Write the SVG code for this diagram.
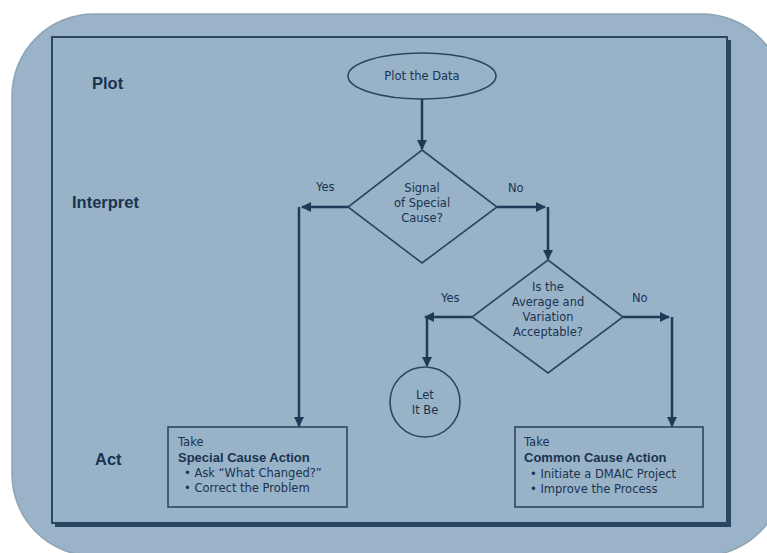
<svg xmlns="http://www.w3.org/2000/svg" width="767" height="553" viewBox="0 0 767 553">
<defs>
<marker id="ah" viewBox="0 0 10 10" refX="9" refY="5" markerWidth="10" markerHeight="10" markerUnits="userSpaceOnUse" orient="auto">
<path d="M0,0 L10,5 L0,10 z" fill="#1f3a56"/>
</marker>
<style>
.shape{fill:#98b2c7;stroke:#2a4663;stroke-width:1.6}
.t{font-family:"DejaVu Sans","Liberation Sans",Arial,sans-serif;font-size:11.5px;fill:#1a3350}
.tb{font-family:"Liberation Sans",Arial,sans-serif;font-size:13px;font-weight:bold;fill:#1a3350}
.lab{font-family:"Liberation Sans",Arial,sans-serif;font-size:16.5px;font-weight:bold;fill:#1a3350}
.ca{fill:none;stroke:#1f3a56;stroke-width:2.5;marker-end:url(#ah)}
</style>
</defs>
<rect width="767" height="553" fill="#ffffff"/>
<rect x="12" y="14" width="772" height="542" rx="82" fill="#9ab3c8" stroke="#8ea3b4" stroke-width="1.5"/>
<polyline points="729,40 729,525 55,525" fill="none" stroke="#2c4560" stroke-width="4"/>
<rect x="52" y="37" width="675" height="486" fill="#98b2c7" stroke="#2a4663" stroke-width="2"/>
<g id="labels">
<text class="lab" x="92" y="89">Plot</text>
<text class="lab" x="72" y="208">Interpret</text>
<text class="lab" x="95" y="465">Act</text>
</g>
<g id="connectors">
<line class="ca" x1="422" y1="99" x2="422" y2="149"/>
<line class="ca" x1="348" y1="207" x2="302" y2="207"/>
<line class="ca" x1="299" y1="207" x2="299" y2="426"/>
<line class="ca" x1="497" y1="207" x2="545" y2="207"/>
<line class="ca" x1="548" y1="207" x2="548" y2="259"/>
<line class="ca" x1="472" y1="317" x2="425" y2="317"/>
<line class="ca" x1="427" y1="317" x2="427" y2="366"/>
<line class="ca" x1="623" y1="317" x2="669" y2="317"/>
<line class="ca" x1="672" y1="317" x2="672" y2="426"/>
<text class="t" x="316" y="191">Yes</text>
<text class="t" x="508" y="192">No</text>
<text class="t" x="441" y="302">Yes</text>
<text class="t" x="632" y="302">No</text>
</g>
<g id="plot-data">
<ellipse class="shape" cx="422" cy="76" rx="74" ry="23"/>
<text class="t" x="422" y="80" text-anchor="middle">Plot the Data</text>
</g>
<g id="signal">
<polygon class="shape" points="422,150 497,207 422,263 348,207"/>
<text class="t" text-anchor="middle"><tspan x="422" y="192">Signal</tspan><tspan x="422" y="207">of Special</tspan><tspan x="422" y="222">Cause?</tspan></text>
</g>
<g id="acceptable">
<polygon class="shape" points="548,260 623,317 548,373 472,317"/>
<text class="t" text-anchor="middle"><tspan x="548" y="291">Is the</tspan><tspan x="548" y="306">Average and</tspan><tspan x="548" y="321">Variation</tspan><tspan x="548" y="336">Acceptable?</tspan></text>
</g>
<g id="let-it-be">
<circle class="shape" cx="425" cy="402" r="35"/>
<text class="t" text-anchor="middle"><tspan x="425" y="399">Let</tspan><tspan x="425" y="414">It Be</tspan></text>
</g>
<g id="special-action">
<rect class="shape" x="168" y="427" width="179" height="80"/>
<text class="t" x="178" y="446">Take</text>
<text class="tb" x="178" y="462">Special Cause Action</text>
<text class="t" x="184" y="477">• Ask “What Changed?”</text>
<text class="t" x="184" y="492">• Correct the Problem</text>
</g>
<g id="common-action">
<rect class="shape" x="515" y="427" width="188" height="80"/>
<text class="t" x="524" y="446">Take</text>
<text class="tb" x="524" y="462">Common Cause Action</text>
<text class="t" x="530" y="478">• Initiate a DMAIC Project</text>
<text class="t" x="530" y="493">• Improve the Process</text>
</g>
</svg>
